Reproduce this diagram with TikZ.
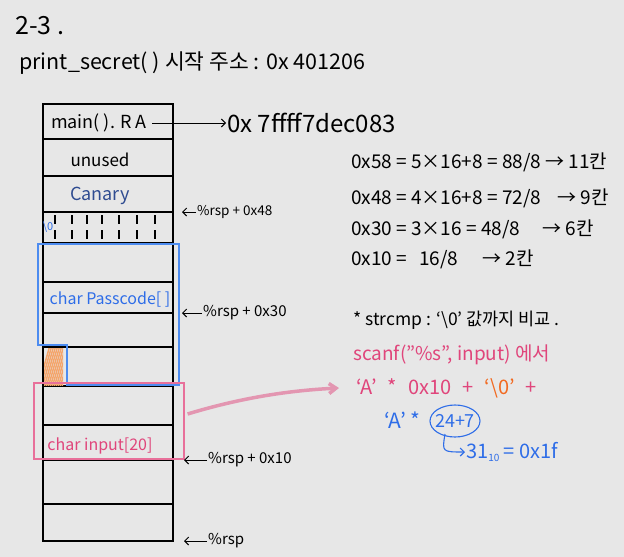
\documentclass[tikz,border=0pt]{standalone}
\usepackage{fontspec}
\setmainfont{Noto Sans CJK KR}
\usetikzlibrary{arrows.meta,shapes.geometric}
\definecolor{bg}{HTML}{E7E7E7}
\definecolor{pinkc}{HTML}{E0457B}
\definecolor{pinkbox}{HTML}{E8709A}
\definecolor{bluec}{HTML}{2E6DE8}
\definecolor{bluebox}{HTML}{4D8CF0}
\definecolor{navyc}{HTML}{2F4C91}
\definecolor{orangec}{HTML}{F26A21}
\definecolor{hatchc}{HTML}{F4A46A}
\newcommand{\fs}[1]{\fontsize{#1}{#1}\selectfont}
\begin{document}
\begin{tikzpicture}[x=1pt,y=-1pt,
  cell/.style={draw, line width=1.6pt, minimum width=130pt, inner sep=0pt, outer sep=0pt},
  txt/.style={inner sep=1pt, font=\fs{17}},
  lbl/.style={inner sep=1pt, anchor=west, font=\fs{15}},
  calc/.style={inner sep=1pt, anchor=west, font=\fs{19}},
  larrow/.style={-{Straight Barb[length=4pt]}, line width=1pt},
  tick/.style={line width=1.4pt}
]
\fill[bg] (0,0) rectangle (624,557);
\useasboundingbox (0,0) rectangle (624,557);

% title
\node[anchor=west, inner sep=0pt, font=\fs{25}] (title) at (15,26) {2-3 .};
\node[anchor=west, inner sep=0pt, font=\fs{21.5}] (sub) at (19,63) {print\_secret( ) 시작 주소 : 0x 401206};

% stack cells
\foreach \i/\c/\h in {1/121.5/35, 2/157.5/37, 3/194/36, 4/227.5/31, 5/262.5/39, 6/297.5/31,
  7/330/34, 8/366.5/39, 9/405.5/39, 10/442.5/35, 11/482/44, 12/522.5/37}
  \node[cell, minimum height=\h pt] (r\i) at (108,\c) {};

% ticks
\foreach \x in {55,72,87,102,119,137,155}
  \draw[tick] (\x,215) -- (\x,224) (\x,230) -- (\x,239);
\node[inner sep=0pt, text=bluec, font=\fs{11}] (nul) at (48,227) {\textbackslash 0};

% orange hatch
\begin{scope}
  \clip (44,348) rectangle (63,385);
  \foreach \k in {0,4,...,60}
    \draw[hatchc, line width=1.5pt] (40+\k,388) -- (52+\k,345) ;
  \foreach \k in {0,4,...,60}
    \draw[hatchc, line width=1.5pt] (38+\k,388) -- (50+\k,345) ;
\end{scope}

% blue passcode region
\draw[bluebox, line width=1.2pt] (38,244) -- (179,244) -- (179,385) -- (67,385) -- (67,345) -- (38,345) -- cycle;
% pink input region
\node[draw=pinkbox, line width=1.2pt, minimum width=150pt, minimum height=76pt, inner sep=0pt] (inbox) at (109,421) {};

% cell texts
\node[txt, font=\fs{18}] (tRA) at (99,123) {main( ). R A};
\node[txt] (tun) at (100,160) {unused};
\node[txt, text=navyc, font=\fs{18}] (tcan) at (100,196) {Canary};
\node[txt, text=bluec, font=\fs{16}] (tpass) at (110,299) {char Passcode[ ]};
\node[txt, text=pinkc, font=\fs{16}] (tin) at (100,446) {char input[20]};

% return address
\node[calc, font=\fs{24}] (addr) at (226,123) {0x 7ffff7dec083};
\draw[larrow] (tRA.east) ++(4pt,0) -- (addr.west);

% offsets
\coordinate (c48) at (182,212);
\coordinate (c30) at (182,313);
\coordinate (c10) at (184,460);
\coordinate (c00) at (184,541);
\node[lbl, font=\fs{13.5}] (l48) at (196,212) {\%rsp + 0x48};
\node[lbl] (l30) at (202,313) {\%rsp + 0x30};
\node[lbl] (l10) at (207,460) {\%rsp + 0x10};
\node[lbl] (l00) at (207,541) {\%rsp};
\draw[larrow] (l48.west) -- (c48);
\draw[larrow] (l30.west) -- (c30);
\draw[larrow] (l10.west) -- (c10);
\draw[larrow] (l00.west) -- (c00);

% calculations
\node[calc] (k1) at (350,162) {0x58 = 5×16+8 = 88/8 → 11칸};
\node[calc] (k2) at (350,198) {0x48 = 4×16+8 = 72/8\hspace{12pt} → 9칸};
\node[calc] (k3) at (350,229) {0x30 = 3×16 = 48/8\hspace{18pt} → 6칸};
\node[calc] (k4) at (350,259) {0x10 =\hspace{8pt} 16/8\hspace{20pt} → 2칸};

\node[calc, font=\fs{17.5}] (s1) at (352,320) {* strcmp : ‘\textbackslash 0’ 값까지 비교 .};
\node[calc, text=pinkc] (s2) at (352,355) {scanf("\%s", input) 에서};
\node[calc, text=pinkc, font=\fs{20}] (s3) at (355,388) {‘A’\hspace{11pt}*\hspace{11pt}0x10\hspace{11pt}+\hspace{11pt}\textcolor{orangec}{‘\textbackslash 0’}\hspace{11pt}+};
\node[calc, text=bluec, font=\fs{21}] (s4) at (383,420) {‘A’ *};
\node[inner sep=0pt, text=bluec, font=\fs{18}] (circ) at (455,421) {24+7};
\draw[bluec, line width=1.1pt] (circ.center) ellipse [x radius=25pt, y radius=16pt];
\node[calc, text=bluec, font=\fs{20}] (s5) at (465,452) {31\raisebox{-0.35ex}{\fs{10}10} = 0x1f};
\draw[bluec, line width=1.1pt, -{Straight Barb[length=4pt]}] ([shift={(-10,13)}]circ.center) .. controls (442,452) .. (s5.west);

% pink arrow
\draw[pinkc!50!bg, line width=3.5pt, -{Straight Barb[length=7pt,width=10pt]}]
  ([shift={(3,-7)}]inbox.east) .. controls (250,395) and (300,390) .. ([xshift=-16pt]s3.west);
\end{tikzpicture}
\end{document}
